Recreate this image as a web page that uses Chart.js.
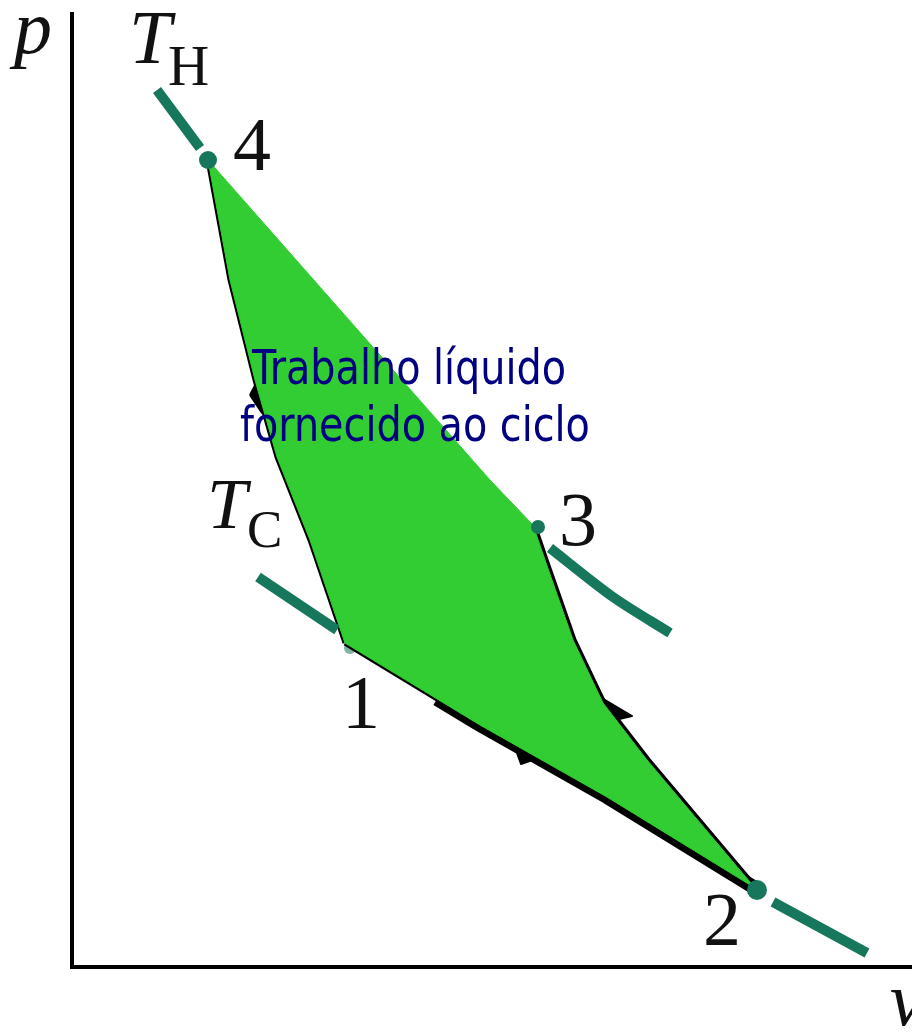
<!DOCTYPE html>
<html>
<head>
<meta charset="utf-8">
<script src="https://cdn.jsdelivr.net/npm/chart.js@4/dist/chart.umd.min.js"></script>
<style>
  html, body { margin: 0; padding: 0; background: #ffffff; }
  #wrap { width: 912px; height: 1036px; }
</style>
</head>
<body>
<div id="wrap"><canvas id="pv" width="912" height="1036"></canvas></div>
<script>
// p–v diagram of a cycle between two isotherms (arbitrary units).

// Cycle path 4 → 1 → 2 → 3 → 4, as [v, p]
const edge41 = [[1.36, 8.07], [1.58, 6.87], [1.83, 5.87], [2.05, 5.10], [2.38, 4.27], [2.73, 3.24]];
const edge12 = [[2.73, 3.24], [4.08, 2.42], [5.35, 1.70], [6.83, 0.79]];
const edge23 = [[6.83, 0.79], [5.75, 2.07], [5.31, 2.64], [5.01, 3.27], [4.73, 4.07], [4.61, 4.42]];
const edge34 = [[4.61, 4.42], [4.18, 4.87], [1.36, 8.07]];

// Visible pieces of the isotherms
const isoHotA  = [[0.85, 8.77], [1.28, 8.19]];
const isoHotB  = [[4.78, 4.19], [5.41, 3.70], [5.98, 3.34]];
const isoColdA = [[1.86, 3.90], [2.65, 3.37]];
const isoColdB = [[7.01, 0.65], [7.95, 0.14]];

// State points 1..4
const stateNames = ['1', '2', '3', '4'];
const stateV = [2.78, 6.85, 4.66, 1.36];
const stateP = [3.19, 0.77, 4.40, 8.07];

// Direction marks on the process lines
const barbLeft   = [[1.78, 5.72], [1.90, 5.54], [1.86, 5.87], [1.78, 5.72]];
const barbBottom = [[4.45, 2.14], [4.49, 2.03], [4.66, 2.09], [4.45, 2.14]];
const barbRight  = [[5.28, 2.70], [5.60, 2.51], [5.43, 2.47], [5.28, 2.70]];

// Axes
const axisPath = [[0, 9.55], [0, 0], [8.40, 0]];

// Text
const workLines = ['Trabalho líquido', 'fornecido ao ciclo'];

const pts = a => a.map(([x, y]) => ({ x, y }));
const cycle = pts([...edge41, ...edge12.slice(1), ...edge23.slice(1), ...edge34.slice(1)]);
const statePts = stateV.map((v, i) => ({ x: v, y: stateP[i] }));

const TEAL = '#17775d';
const GREEN = '#32cd32';

function lineSet(data, color, width, order, extra) {
  return Object.assign({
    data: pts(data), showLine: true, borderColor: color, borderWidth: width,
    pointRadius: 0, tension: 0, fill: false, clip: false, order,
    borderCapStyle: 'butt', borderJoinStyle: 'round'
  }, extra || {});
}

const textLayer = {
  id: 'textLayer',
  afterDatasetsDraw(chart) {
    const { ctx, scales: { x, y } } = chart;
    const put = (txt, v, p, font, align, color, sx) => {
      ctx.save();
      ctx.font = font;
      ctx.fillStyle = color || '#111';
      ctx.textAlign = align || 'left';
      ctx.textBaseline = 'alphabetic';
      ctx.translate(x.getPixelForValue(v), y.getPixelForValue(p));
      if (sx) ctx.scale(sx, 1);
      ctx.fillText(txt, 0, 0);
      ctx.restore();
    };
    const serif = '"Liberation Serif", "Times New Roman", serif';
    put('p', -0.58, 9.14, 'italic 76px ' + serif);
    put('v', 8.18, -0.58, 'italic 76px ' + serif);
    put('T', 0.57, 9.04, 'italic 76px ' + serif);
    put('H', 0.96, 8.82, '57px ' + serif);
    put('T', 1.35, 4.39, 'italic 72px ' + serif);
    put('C', 1.75, 4.20, '53px ' + serif);
    const labelPos = [[2.89, 2.39], [6.50, 0.22], [5.06, 4.22], [1.80, 7.97]];
    stateNames.forEach((n, i) => put(n, labelPos[i][0], labelPos[i][1], '76px ' + serif, 'center'));
    const sans = '"DejaVu Sans Condensed", "DejaVu Sans", sans-serif';
    put(workLines[0], 3.37, 5.83, '48px ' + sans, 'center', '#000080', 0.92);
    put(workLines[1], 3.43, 5.26, '48px ' + sans, 'center', '#000080', 0.92);
  }
};

new Chart(document.getElementById('pv'), {
  type: 'scatter',
  data: {
    datasets: [
      // faint marker at state 1, mostly hidden under the fill
      { data: [statePts[0]], pointRadius: 6, pointBackgroundColor: 'rgba(23,119,93,0.55)', pointBorderWidth: 0, clip: false, order: 100 },
      // process lines (outline)
      lineSet(edge41, '#000', 5, 90),
      lineSet(edge12.slice(0, 2), '#000', 5, 90),
      lineSet([[3.65, 2.68], ...edge12.slice(1)], '#000', 14, 90),
      lineSet(edge23, '#000', 7, 90),
      lineSet(barbLeft, '#000', 2, 90, { fill: 'shape', backgroundColor: '#000' }),
      lineSet(barbBottom, '#000', 2, 90, { fill: 'shape', backgroundColor: '#000' }),
      lineSet(barbRight, '#000', 2, 90, { fill: 'shape', backgroundColor: '#000' }),
      // enclosed area = net work
      { data: cycle, showLine: true, fill: 'shape', backgroundColor: GREEN, borderColor: GREEN,
        borderWidth: 1, pointRadius: 0, tension: 0, clip: false, order: 50 },
      // isotherms T_H and T_C
      lineSet(isoHotA, TEAL, 10, 20),
      lineSet(isoHotB, TEAL, 10, 20, { tension: 0.3 }),
      lineSet(isoColdA, TEAL, 10, 20),
      lineSet(isoColdB, TEAL, 10, 20),
      // state points 2, 3, 4
      { data: [statePts[1]], pointRadius: 10, pointBackgroundColor: TEAL, pointBorderWidth: 0, clip: false, order: 10 },
      { data: [statePts[2]], pointRadius: 7, pointBackgroundColor: TEAL, pointBorderWidth: 0, clip: false, order: 10 },
      { data: [statePts[3]], pointRadius: 9, pointBackgroundColor: TEAL, pointBorderWidth: 0, clip: false, order: 10 },
      // axes
      lineSet(axisPath, '#000', 4, 5, { borderJoinStyle: 'miter' })
    ]
  },
  options: {
    responsive: false,
    animation: false,
    devicePixelRatio: 1,
    layout: { autoPadding: false, padding: { left: 72, right: 0, top: 0, bottom: 69 } },
    scales: {
      x: { type: 'linear', min: 0, max: 8.40, display: false },
      y: { type: 'linear', min: 0, max: 9.67, display: false }
    },
    plugins: { legend: { display: false }, tooltip: { enabled: false } },
    events: []
  },
  plugins: [textLayer]
});
</script>
</body>
</html>
